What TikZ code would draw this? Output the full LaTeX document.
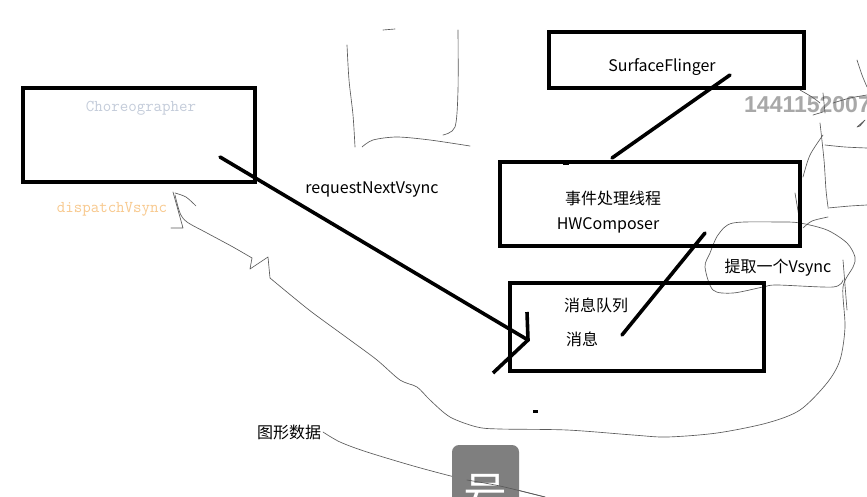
\documentclass[tikz,border=0pt]{standalone}
\usepackage{fontspec}
\setmainfont{Noto Sans CJK SC}
\newfontfamily\numfont{Liberation Sans}
\usetikzlibrary{calc}
\definecolor{chorc}{HTML}{C4CCDA}
\definecolor{dispc}{HTML}{F8C98E}
\definecolor{pencil}{HTML}{5A5A5A}
\definecolor{wmark}{HTML}{A8A8A8}
\definecolor{tabgray}{HTML}{7F7F7F}
\tikzset{
  blockbox/.style={draw=black,line width=3.6pt,rectangle,inner sep=0pt,outer sep=0pt},
  heavy/.style={line width=3.6pt,line cap=round},
  scribble/.style={draw=pencil,line width=0.65pt,line cap=round,line join=round},
  label/.style={font=\fontsize{16}{19}\selectfont,inner sep=0pt},
  monolabel/.style={font=\ttfamily\fontsize{16.5}{18}\selectfont,inner sep=0pt}
}
\begin{document}
\begin{tikzpicture}[x=1pt,y=-1pt]
\useasboundingbox (0,0) rectangle (867,496);
\clip (0,0) rectangle (867,496);
\fill[white] (0,0) rectangle (867,496);

% hand scribbles (pencil)
\draw[scribble] plot[smooth] coordinates {(347,45) (349,80) (353,115) (355,147)};
\draw[scribble] plot[smooth] coordinates {(362,147) (373,140) (397,137) (430,140) (470,146)};
\draw[scribble] plot[smooth] coordinates {(458,30) (458,90) (455,127) (443,135)};
\draw[scribble] (383,30) -- (395,29);

% watermark digits
\node[font=\numfont\bfseries\fontsize{23}{26}\selectfont,text=wmark,anchor=west,inner sep=0pt] (wm) at (744,105) {1441152007};

% right-side scribbles
\draw[scribble] plot[smooth] coordinates {(800,90) (812,97) (820,103)};
\draw[scribble] (823,93) -- (825,113);
\draw[scribble] (813,115) -- (823,112);
\draw[scribble] plot[smooth] coordinates {(833,103) (850,98) (867,95)};
\draw[scribble] plot[smooth] coordinates {(857,60) (862,75) (867,87)};
\draw[scribble] (857,127) -- (865,120) -- (860,126) -- cycle;
\draw[scribble] plot[smooth] coordinates {(820,123) (824,160) (826,190) (828,207)};
\draw[scribble] plot[smooth] coordinates {(823,135) (810,155) (803,177)};
\draw[scribble] plot[smooth] coordinates {(825,145) (845,147) (867,148)};
\draw[scribble] plot[smooth] coordinates {(828,208) (850,206) (867,205)};
\draw[scribble] (795,193) -- (800,223);
\draw[scribble] plot[smooth] coordinates {(803,228) (812,221) (828,217)};
\draw[scribble] (843,260) -- (847,310);

% big loop from dispatchVsync around to 提取一个Vsync
\draw[scribble] (173,192) -- (183,228) -- (171,228);
\draw[scribble] plot[smooth] coordinates {(175,193) (186,197) (196,206)};
\draw[scribble] plot[smooth] coordinates {(175,195) (180,213) (187,222) (207,233) (233,247) (252,258)};
\draw[scribble] (252,258) -- (250,269) -- (268,257) -- (270,278);
\draw[scribble] plot[smooth] coordinates {(270,278) (293,297) (313,313) (350,340) (377,360) (400,380) (417,387) (430,400) (450,417) (477,427) (500,429) (567,430) (633,435) (667,437) (717,433) (767,423) (800,410) (827,383) (840,360) (845,327) (843,287) (853,267) (855,257) (847,243) (827,230) (800,223) (780,222) (733,223) (718,235) (710,253) (705,267) (713,290) (733,293) (763,287) (777,285) (833,287) (843,280)};

% 图形数据 connector curve
\node[label,anchor=west] (gfx) at (257,432) {图形数据};
\coordinate (gfxend) at (545,497);
\draw[scribble] plot[smooth] coordinates {(323,432) (340,442) (367,452) (417,467) (467,480) (500,486) (545,497)};

% gray tab with 号
\fill[tabgray,rounded corners=7pt] (452,445) rectangle (519,520);
\node[text=white,font=\fontsize{44}{48}\selectfont,inner sep=0pt] (hao) at (485,494) {号};
\draw[scribble] plot[smooth] coordinates {(467,480) (500,486) (545,497)};

% boxes
\node[blockbox,minimum width=232pt,minimum height=94pt] (chor) at (139,135) {};
\node[blockbox,minimum width=255pt,minimum height=56pt] (sf) at (676.5,60) {};
\node[blockbox,minimum width=300pt,minimum height=84pt] (evt) at (650,204) {};
\node[blockbox,minimum width=254pt,minimum height=88pt] (mq) at (637,327) {};

% texts
\node[monolabel,text=chorc] (chorl) at (141,108) {Choreographer};
\node[monolabel,text=dispc] (displ) at (112,209) {dispatchVsync};
\node[label] (sfl) at (662,67) {SurfaceFlinger};
\node[label] (evl) at (613,198) {事件处理线程};
\node[label] (hwl) at (608,225) {HWComposer};
\node[label] (mql) at (596,305) {消息队列};
\node[label] (msgl) at (582,339) {消息};
\node[label] (reql) at (372,190) {requestNextVsync};
\node[label] (vsl) at (778,268) {提取一个Vsync};

% heavy strokes
\coordinate (sfa) at (730,75);
\coordinate (sfb) at (612,158);
\draw[heavy] (sfa) -- (sfb);
\coordinate (hwa) at (705,233);
\coordinate (hwb) at (622,335);
\draw[heavy] (hwa) -- (hwb);
\coordinate (reqa) at (220,157);
\coordinate (reqb) at (528,340);
\draw[heavy] (reqa) -- (reqb);
\coordinate (tipa) at (527,312);
\coordinate (tipb) at (493,373);
\draw[heavy,line cap=butt] (tipa) -- (reqb) -- (tipb);
\fill[black] (563,161) rectangle (569,165);
\fill[black] (533,409.5) rectangle (538,412.5);
\end{tikzpicture}
\end{document}
